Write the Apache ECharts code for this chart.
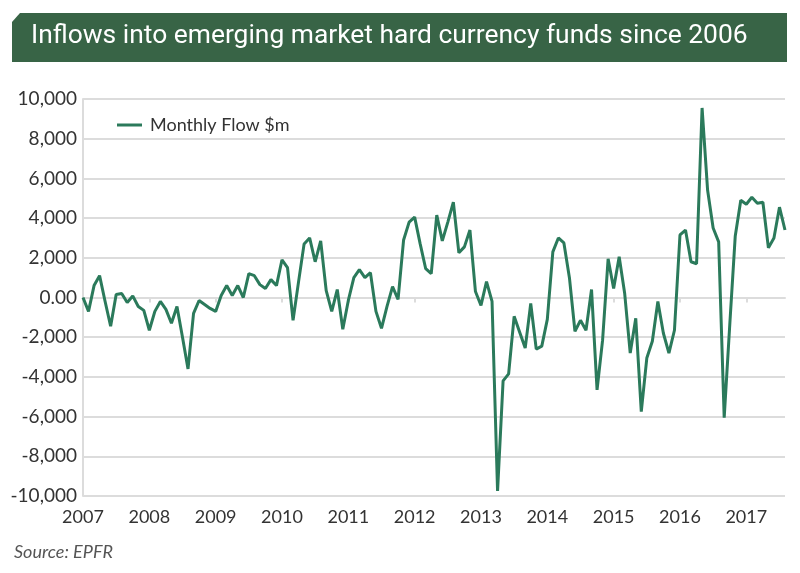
<!DOCTYPE html>
<html lang="en">

<head>
  <meta charset="UTF-8">
  <title>Inflows into emerging market hard currency funds</title>
  <style>
    html, body { margin: 0; padding: 0; background: #fff; }
  </style>
</head>

<body>
  <div id="main" style="width: 800px;height: 573px;"></div>
</body>
<script src="https://cdn.jsdelivr.net/npm/echarts@6/dist/echarts.min.js"></script>
<script>
  var titleText = 'Inflows into emerging market hard currency funds since 2006';
  var seriesName = 'Monthly Flow $m';
  var sourceText = 'Source: EPFR';

  // monthly flows, Jan 2007 .. Aug 2017
  var flows = [
    0, -700, 600, 1100, -200, -1450, 150, 200, -250, 80, -450, -650,
    -1650, -700, -200, -600, -1300, -450, -2000, -3600, -800, -150, -350, -550,
    -700, 100, 600, 100, 600, 0, 1200, 1100, 650, 450, 900, 600,
    1900, 1500, -1150, 800, 2700, 3000, 1800, 2850, 350, -700, 400, -1600,
    -150, 1000, 1400, 1000, 1250, -700, -1550, -450, 550, -100, 2900, 3800,
    4050, 2700, 1450, 1200, 4150, 2850, 3800, 4800, 2250, 2550, 3400, 300,
    -400, 800, -200, -9750, -4200, -3850, -950, -1750, -2550, -300, -2600, -2450,
    -1100, 2300, 3000, 2750, 1000, -1700, -1150, -1650, 400, -4650, -2150, 1950,
    450, 2050, 200, -2800, -1050, -5750, -3050, -2200, -200, -1800, -2800, -1650,
    3150, 3400, 1800, 1700, 9550, 5400, 3500, 2800, -6050, -1400, 3100, 4900,
    4700, 5050, 4750, 4800, 2500, 3000, 4550, 3400
  ];

  var startYear = 2007;
  var months = [];
  for (var i = 0; i < flows.length; i++) {
    var y = startYear + Math.floor(i / 12);
    var m = (i % 12) + 1;
    months.push(y + '-' + (m < 10 ? '0' + m : m));
  }

  var green = '#2b7a5b';
  var grey = '#dcdcdc';

  var chartDom = document.getElementById('main');
  var myChart = echarts.init(chartDom);
  var option;

  option = {
    animation: false,
    backgroundColor: '#fff',
    textStyle: { fontFamily: 'Lato, sans-serif' },
    grid: {
      left: 83,
      right: 15,
      top: 99,
      bottom: 77
    },
    legend: {
      left: 112,
      top: 111,
      itemWidth: 25,
      itemHeight: 3,
      itemGap: 8,
      data: [{ name: seriesName, icon: 'rect' }],
      textStyle: { fontSize: 18, color: '#333', fontFamily: 'Lato, sans-serif', padding: [0, 0, 0, 3] }
    },
    xAxis: {
      type: 'category',
      boundaryGap: false,
      data: months,
      axisLine: { show: true, lineStyle: { color: grey, width: 2 } },
      axisTick: {
        show: true,
        length: 5,
        interval: function (idx) { return idx % 12 === 0; },
        lineStyle: { color: grey, width: 2 }
      },
      axisLabel: {
        interval: function (idx) { return idx % 12 === 0; },
        formatter: function (v) { return v.slice(0, 4); },
        fontSize: 18,
        color: '#333',
        margin: 12
      },
      splitLine: { show: false }
    },
    yAxis: {
      type: 'value',
      min: -10000,
      max: 10000,
      interval: 2000,
      axisLine: { show: true, lineStyle: { color: grey, width: 2 } },
      axisTick: { show: false },
      axisLabel: {
        fontSize: 19,
        color: '#333',
        margin: 6,
        formatter: function (v) {
          if (v === 0) return '0.00';
          return v.toLocaleString('en-US');
        }
      },
      splitLine: { show: true, lineStyle: { color: grey, width: 2 } }
    },
    series: [
      {
        name: seriesName,
        type: 'line',
        symbol: 'none',
        smooth: false,
        data: flows,
        lineStyle: { color: green, width: 3 },
        itemStyle: { color: green }
      }
    ],
    graphic: [
      {
        type: 'polygon',
        shape: { points: [[20, 13], [787, 13], [787, 62], [12, 62], [12, 22]] },
        style: { fill: '#386446' }
      },
      {
        type: 'text',
        left: 31,
        top: 23,
        style: {
          text: titleText,
          fill: '#fff',
          font: '26.4px Roboto, sans-serif'
        }
      },
      {
        type: 'text',
        left: 14,
        top: 543,
        style: {
          text: sourceText,
          fill: '#555',
          font: 'italic 18px Lato, sans-serif'
        }
      }
    ]
  };

  option && myChart.setOption(option);
</script>

</html>
